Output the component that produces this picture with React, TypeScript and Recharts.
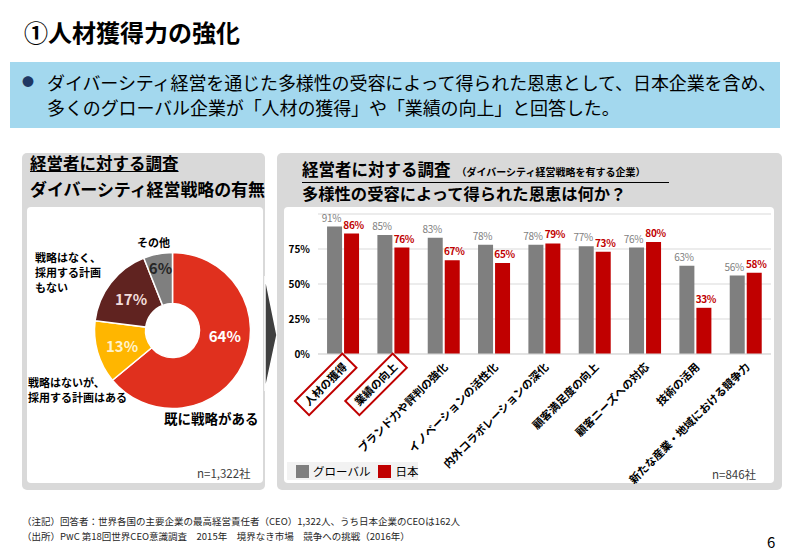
import React from 'react';
import { BarChart, Bar, XAxis, YAxis, CartesianGrid, LabelList, PieChart, Pie, Cell } from 'recharts';

const categories = [
  '人材の獲得',
  '業績の向上',
  'ブランド力や評判の強化',
  'イノベーションの活性化',
  '内外コラボレーションの深化',
  '顧客満足度の向上',
  '顧客ニーズへの対応',
  '技術の活用',
  '新たな産業・地域における競争力',
];
const globalValues = [91, 85, 83, 78, 78, 77, 76, 63, 56];
const japanValues = [86, 76, 67, 65, 79, 73, 80, 33, 58];
const highlighted = [true, true, false, false, false, false, false, false, false];
const yTicks = [0, 25, 50, 75];
const seriesNames = ['グローバル', '日本'];
const seriesColors = ['#7f7f7f', '#c00000'];

const pieNames = ['既に戦略がある', '戦略はないが、\n採用する計画はある', '戦略はなく、\n採用する計画\nもない', 'その他'];
const pieValues = [64, 13, 17, 6];
const pieColors = ['#e0301e', '#ffb600', '#602320', '#7f7f7f'];
const pieLabelColors = ['#ffffff', '#fff2cc', '#f2dcdb', '#262626'];

const barData = categories.map((c, i) => ({ name: c, global: globalValues[i], japan: japanValues[i] }));
const pieData = pieNames.map((n, i) => ({ name: n, value: pieValues[i] }));

const FONT = '"Noto Sans CJK JP", "Noto Sans", sans-serif';

const XTick = (props: any) => {
  const { x, y, payload, index } = props;
  const label: string = payload.value;
  const fs = 11;
  const len = label.length * fs;
  const boxed = highlighted[index];
  return (
    <g transform={`translate(${x + 2},${y + 3}) rotate(-45)`}>
      {boxed && (
        <rect x={-len - 6} y={-10} width={len + 12} height={20} fill="#ffffff" stroke="#c00000" strokeWidth={2} />
      )}
      <text x={0} y={0} dy="0.35em" textAnchor="end" fontSize={fs} fontWeight="bold" fill="#000">
        {label}
      </text>
    </g>
  );
};

const makeBarLabel = (color: string, bold: boolean, dx: number) => (props: any) => {
  const { x, y, width, value } = props;
  return (
    <text
      x={x + width / 2 + dx}
      y={y - 5}
      textAnchor="middle"
      fontSize={10}
      fontWeight={bold ? 'bold' : 'normal'}
      fill={color}
      letterSpacing={-0.3}
    >
      {`${value}%`}
    </text>
  );
};

const RAD = Math.PI / 180;
const pieLabel = (props: any) => {
  const { cx, cy, midAngle, innerRadius, outerRadius, index, value, percent } = props;
  const r = index === 3 ? outerRadius - 14 : (innerRadius + outerRadius) / 2;
  // large slices: pull label toward the slice's start side (like the original layout)
  const ang = percent > 0.5 ? midAngle + 20 : midAngle;
  const x = cx + r * Math.cos(-ang * RAD);
  const y = cy + r * Math.sin(-ang * RAD);
  return (
    <text x={x} y={y} textAnchor="middle" dominantBaseline="central" fontSize={15} fontWeight="bold" fill={pieLabelColors[index]}>
      {`${value}%`}
    </text>
  );
};

const abs = (l: number, t: number, extra: React.CSSProperties = {}): React.CSSProperties => ({ position: 'absolute', left: l, top: t, ...extra });

const Lines = ({ text }: { text: string }) => (
  <>
    {text.split('\n').map((s, i) => (
      <div key={i}>{s}</div>
    ))}
  </>
);

export default function App() {
  return (
    <div style={{ position: 'absolute', left: 0, top: 0, width: 800, height: 554, background: '#fff', fontFamily: FONT, overflow: 'hidden' }}>
      {/* Title */}
      <div style={abs(24, 16, { fontSize: 24, fontWeight: 'bold', color: '#000', lineHeight: '32px', whiteSpace: 'nowrap' })}>①人材獲得力の強化</div>

      {/* Banner */}
      <div style={abs(10, 62, { width: 770, height: 66, background: '#a3d8ee' })} />
      <div style={abs(22, 71, { fontSize: 12, color: '#1f3864', lineHeight: '22px' })}>●</div>
      <div style={abs(47, 70, { fontSize: 18, color: '#000', lineHeight: '25px', whiteSpace: 'nowrap', letterSpacing: -0.1 })}>
        <div>ダイバーシティ経営を通じた多様性の受容によって得られた恩恵として、日本企業を含め、</div>
        <div>多くのグローバル企業が「人材の獲得」や「業績の向上」と回答した。</div>
      </div>

      {/* Left panel */}
      <div style={abs(22, 153, { width: 243, height: 337, background: '#d9d9d9', borderRadius: 5 })} />
      <div style={abs(27, 207, { width: 236, height: 276, background: '#fff', borderRadius: 4 })} />
      <div style={abs(30, 152, { fontSize: 16.5, fontWeight: 'bold', color: '#000', lineHeight: '22px', textDecoration: 'underline', whiteSpace: 'nowrap' })}>経営者に対する調査</div>
      <div style={abs(30, 178, { fontSize: 17, fontWeight: 'bold', color: '#000', lineHeight: '22px', whiteSpace: 'nowrap', letterSpacing: -0.1 })}>ダイバーシティ経営戦略の有無</div>

      <div style={abs(27, 207)}>
        <PieChart width={236} height={276} margin={{ top: 0, right: 0, bottom: 0, left: 0 }}>
          <Pie
            data={pieData}
            dataKey="value"
            cx={145.5}
            cy={123.5}
            innerRadius={27}
            outerRadius={78}
            startAngle={90}
            endAngle={-270}
            stroke="#ffffff"
            strokeWidth={1.5}
            label={pieLabel}
            labelLine={false}
            isAnimationActive={false}
          >
            {pieData.map((d, i) => (
              <Cell key={i} fill={pieColors[i]} />
            ))}
          </Pie>
        </PieChart>
      </div>
      <div style={abs(137, 235, { fontSize: 11, fontWeight: 'bold', lineHeight: '15px' })}>{pieNames[3]}</div>
      <div style={abs(35, 250, { fontSize: 11, fontWeight: 'bold', lineHeight: '15px' })}><Lines text={pieNames[2]} /></div>
      <div style={abs(28, 375, { fontSize: 11, fontWeight: 'bold', lineHeight: '15px', whiteSpace: 'nowrap' })}><Lines text={pieNames[1]} /></div>
      <div style={abs(164, 408, { fontSize: 13.5, fontWeight: 'bold', lineHeight: '20px', whiteSpace: 'nowrap' })}>{pieNames[0]}</div>
      <div style={abs(197, 465, { fontSize: 11.5, color: '#404040', lineHeight: '16px', whiteSpace: 'nowrap' })}>n=1,322社</div>

      {/* Arrow */}
      <svg style={abs(262, 270)} width={20} height={125}>
        <polygon points="3,6 15,65 3,121" fill="#3f3f3f" stroke="#ffffff" strokeWidth={1.5} />
      </svg>

      {/* Right panel */}
      <div style={abs(277, 153, { width: 505, height: 337, background: '#d9d9d9', borderRadius: 5 })} />
      <div style={abs(284, 207, { width: 490, height: 276, background: '#fff', borderRadius: 4 })} />
      <div style={abs(302, 159, { fontSize: 16.5, fontWeight: 'bold', color: '#000', lineHeight: '21px', whiteSpace: 'nowrap', borderBottom: '1.5px solid #000', width: 367 })}>
        経営者に対する調査<span style={{ fontSize: 10, marginLeft: 6 }}>（ダイバーシティ経営戦略を有する企業）</span>
      </div>
      <div style={abs(302, 182, { fontSize: 16.3, fontWeight: 'bold', color: '#000', lineHeight: '22px', whiteSpace: 'nowrap' })}>多様性の受容によって得られた恩恵は何か？</div>

      <div style={abs(285, 207)}>
        <BarChart width={488} height={285} data={barData} margin={{ top: 7, right: 2, left: 0, bottom: 0 }} barCategoryGap="18%" barGap={2}>
          <CartesianGrid vertical={false} stroke="#d9d9d9" />
          <XAxis dataKey="name" interval={0} height={138} tick={<XTick />} tickLine={false} axisLine={{ stroke: '#d9d9d9' }} />
          <YAxis
            width={33}
            domain={[0, 100]}
            ticks={yTicks}
            tickFormatter={(v: number) => `${v}%`}
            tick={{ fontSize: 10, fontWeight: 'bold', fill: '#000' }}
            axisLine={false}
            tickLine={false}
          />
          <Bar dataKey="global" fill={seriesColors[0]} isAnimationActive={false}>
            <LabelList dataKey="global" content={makeBarLabel('#7f7f7f', false, -3)} />
          </Bar>
          <Bar dataKey="japan" fill={seriesColors[1]} isAnimationActive={false}>
            <LabelList dataKey="japan" content={makeBarLabel('#c00000', true, 2)} />
          </Bar>
        </BarChart>
      </div>

      {/* Legend */}
      <div style={abs(287, 462, { width: 131, height: 18, background: '#f2f2f2', display: 'flex', alignItems: 'center', fontSize: 11.5, lineHeight: '18px', color: '#000', whiteSpace: 'nowrap' })}>
        {seriesNames.map((n, i) => (
          <div key={n} style={{ display: 'flex', alignItems: 'center', marginLeft: i === 0 ? 9 : 8, whiteSpace: 'nowrap' }}>
            <div style={{ width: 13, height: 13, background: seriesColors[i], marginRight: 4, flexShrink: 0 }} />
            <span>{n}</span>
          </div>
        ))}
      </div>
      <div style={abs(712, 466, { fontSize: 11.5, color: '#404040', lineHeight: '16px', whiteSpace: 'nowrap' })}>n=846社</div>

      {/* Footnotes */}
      <div style={abs(22, 514, { fontSize: 9.5, color: '#262626', lineHeight: '15px', whiteSpace: 'nowrap' })}>
        <div>（注記）回答者：世界各国の主要企業の最高経営責任者（CEO）1,322人、うち日本企業のCEOは162人</div>
        <div>（出所）PwC 第18回世界CEO意識調査　2015年　境界なき市場　競争への挑戦（2016年）</div>
      </div>
      <div style={abs(767, 532, { fontSize: 15, color: '#000', lineHeight: '20px' })}>6</div>
    </div>
  );
}
